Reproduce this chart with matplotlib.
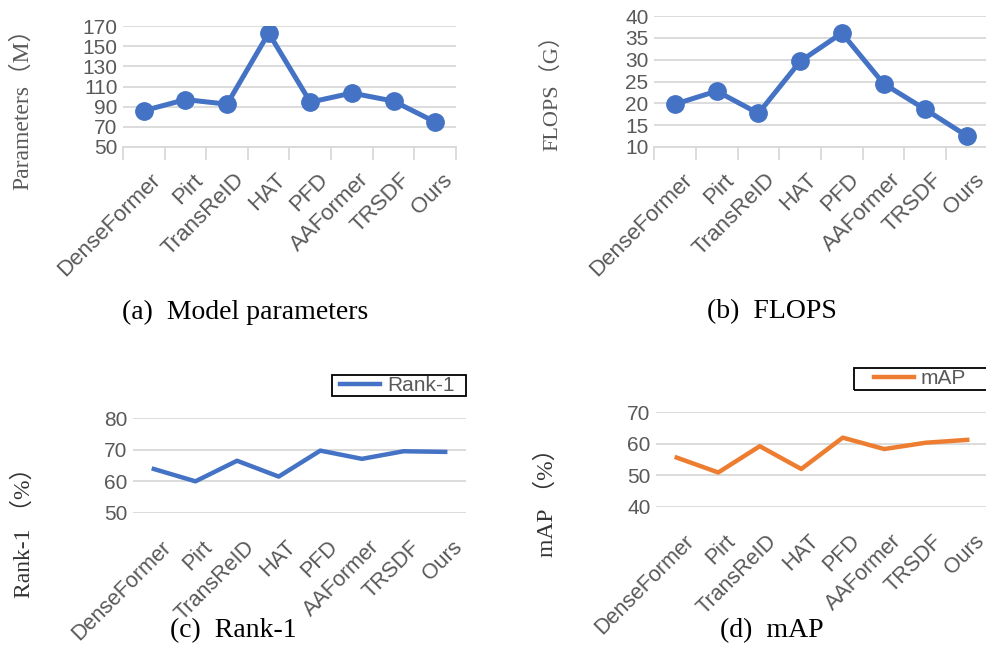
import matplotlib
matplotlib.use("Agg")
import matplotlib.pyplot as plt
from matplotlib.patches import Rectangle
from matplotlib.transforms import ScaledTranslation

plt.rcParams['font.family'] = ['Liberation Sans', 'Noto Sans CJK SC']

# data
models = ['DenseFormer', 'Pirt', 'TransReID', 'HAT', 'PFD', 'AAFormer', 'TRSDF', 'Ours']
params_m = [86, 97, 92.5, 163, 94.5, 103.5, 95.5, 74.8]
flops_g = [19.8, 22.8, 17.7, 29.6, 36.1, 24.5, 18.6, 12.5]
rank1 = [63.9, 60.0, 66.5, 61.5, 69.7, 67.1, 69.5, 69.3]
mean_ap = [55.6, 50.9, 59.2, 52.0, 61.9, 58.3, 60.3, 61.2]

params_ticks = [50, 70, 90, 110, 130, 150, 170]
flops_ticks = [10, 15, 20, 25, 30, 35, 40]
rank1_ticks = [50, 60, 70, 80]
map_ticks = [40, 50, 60, 70]

BLUE = '#4472C4'
ORANGE = '#ED7D31'
GRID = '#D9D9D9'
TXT = '#595959'
W, H = 987, 648

fig = plt.figure(figsize=(W / 100, H / 100), dpi=100)


def px_axes(l, t, r, b):
    return fig.add_axes([l / W, 1 - b / H, (r - l) / W, (b - t) / H])


def style(ax, ticks, label_fs, dx, dy, boundary_ticks):
    ax.set_xlim(-0.5, 7.5)
    ax.set_ylim(ticks[0], ticks[-1])
    ax.set_yticks(ticks)
    ax.tick_params(axis='y', length=0, labelsize=15, labelcolor=TXT, pad=4)
    ax.grid(axis='y', color=GRID, lw=1.3)
    ax.set_axisbelow(True)
    for s in ['top', 'right', 'left']:
        ax.spines[s].set_visible(False)
    ax.spines['bottom'].set_color(GRID)
    ax.spines['bottom'].set_linewidth(1.3)
    if boundary_ticks:
        ax.set_xticks([i - 0.5 for i in range(9)])
        ax.tick_params(axis='x', which='major', length=9, width=1.3,
                       color=GRID, labelbottom=False)
    else:
        ax.set_xticks([])
        ax.spines['bottom'].set_visible(False)
    ax.set_xticks(range(8), minor=True)
    ax.set_xticklabels(models, minor=True, rotation=45, ha='right',
                       va='center', rotation_mode='anchor', fontsize=label_fs,
                       color=TXT)
    ax.tick_params(axis='x', which='minor', length=0, pad=0)
    off = ScaledTranslation(dx / 100, -dy / 100, fig.dpi_scale_trans)
    for lab in ax.get_xticklabels(minor=True):
        lab.set_transform(lab.get_transform() + off)


# (a) parameters
ax_a = px_axes(123, 26, 456, 147)
ax_a.plot(range(8), params_m, color=BLUE, lw=3.6, marker='o', ms=12.5)
style(ax_a, params_ticks, 16, 14, 30, True)

# (b) FLOPS
ax_b = px_axes(654, 16, 988, 147)
ax_b.plot(range(8), flops_g, color=BLUE, lw=3.6, marker='o', ms=12.5)
style(ax_b, flops_ticks, 16, 14, 30, True)

# (c) Rank-1
ax_c = px_axes(133, 418, 466, 513)
ax_c.plot(range(8), rank1, color=BLUE, lw=3.2, label='Rank-1')
style(ax_c, rank1_ticks, 15.5, 14, 31, False)

# (d) mAP
ax_d = px_axes(656, 412, 988, 507)
ax_d.plot(range(8), mean_ap, color=ORANGE, lw=3.2, label='mAP')
style(ax_d, map_ticks, 15.5, 14, 31, False)

# legends: entry placed at the line start, box drawn separately
for ax, lx, cy, box in [(ax_c, 340, 385.5, (332, 375, 466, 396)),
                        (ax_d, 874, 379, (854, 368, 1000, 390))]:
    leg = ax.legend(loc='center left', bbox_to_anchor=(lx / W, 1 - cy / H),
                    bbox_transform=fig.transFigure, fontsize=15,
                    handlelength=1.9, handletextpad=0.35, borderpad=0,
                    borderaxespad=0, frameon=False)
    for t in leg.get_texts():
        t.set_color(TXT)
    l, t, r, b = box
    fig.patches.append(Rectangle((l / W, 1 - b / H), (r - l) / W, (b - t) / H,
                                 transform=fig.transFigure, fill=False,
                                 ec='black', lw=1.3))

# axis titles
serif = ['Liberation Serif', 'Noto Sans CJK SC']
fig.text(22 / W, 1 - 103 / H, 'Parameters（M）', rotation=90, ha='center',
         va='center', fontsize=17, color=TXT, family=serif)
fig.text(552 / W, 1 - 87 / H, 'FLOPS（G）', rotation=90, ha='center',
         va='center', fontsize=16, color=TXT, family=serif)
fig.text(24 / W, 1 - 527 / H, 'Rank-1 （%）', rotation=90, ha='center',
         va='center', fontsize=17, color='#333333', family=serif)
fig.text(547 / W, 1 - 497 / H, 'mAP （%）', rotation=90, ha='center',
         va='center', fontsize=17, color='#333333', family=serif)

# captions
cap = dict(ha='center', va='center', fontsize=20, color='black',
           family='Liberation Serif')
fig.text(245 / W, 1 - 312 / H, '(a)  Model parameters', **cap)
fig.text(772 / W, 1 - 312 / H, '(b)  FLOPS', **cap)
fig.text(233 / W, 1 - 631 / H, '(c)  Rank-1', **cap)
fig.text(772 / W, 1 - 631 / H, '(d)  mAP', **cap)

fig.savefig('out.png', dpi=100)
